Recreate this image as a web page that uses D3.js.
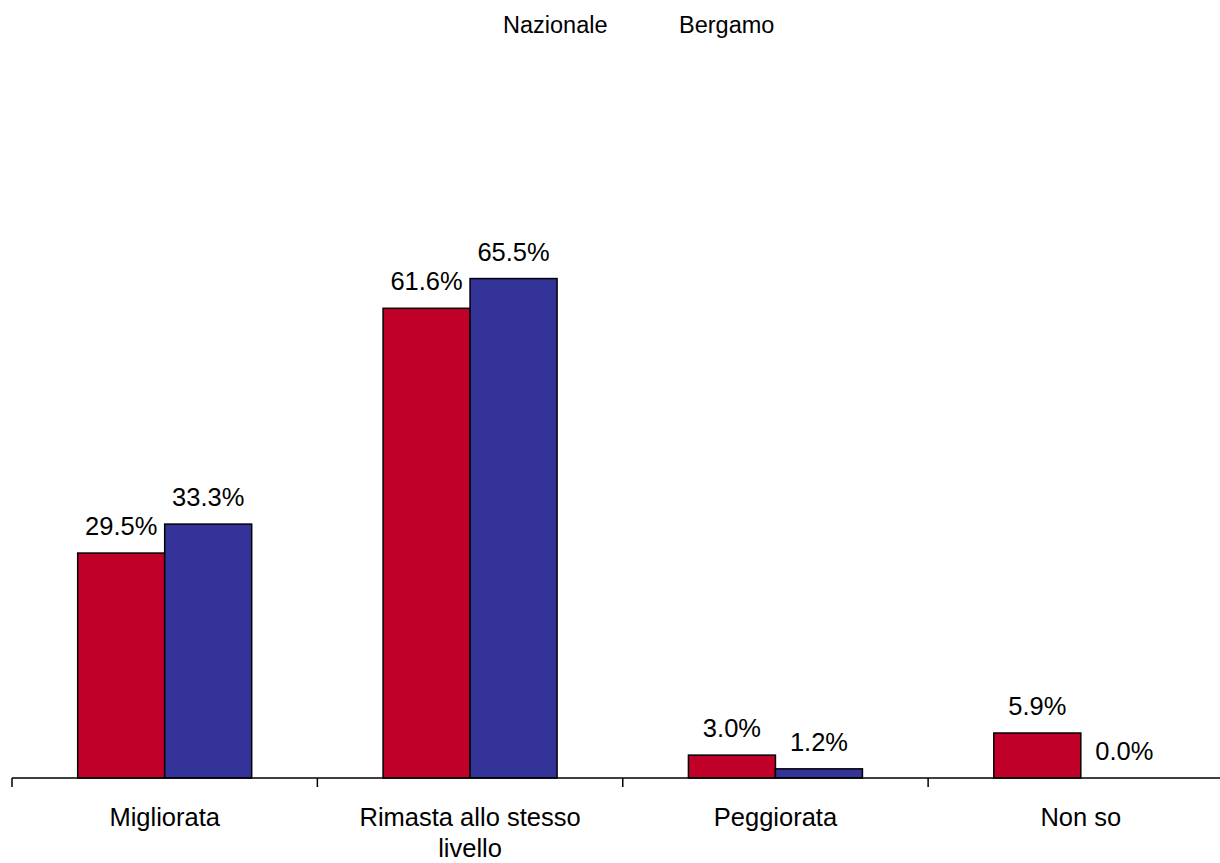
<!DOCTYPE html>
<html>
<head>
<meta charset="utf-8">
<script src="https://cdn.jsdelivr.net/npm/d3@7"></script>
<style>
  body { margin: 0; background: #fff; }
  svg { display: block; font-family: "Liberation Sans", Arial, sans-serif; }
</style>
</head>
<body>
<div id="chart"></div>
<script>
/* Bar chart: Nazionale vs Bergamo */

const categories = ["Migliorata", "Rimasta allo stesso livello", "Peggiorata", "Non so"];
const series = ["Nazionale", "Bergamo"];
const nazionale = [29.5, 61.6, 3.0, 5.9];
const bergamo = [33.3, 65.5, 1.2, 0.0];
const colors = ["#C00028", "#333399"];

const width = 1220, height = 863;
const margin = ({ top: 15.5, left: 12, right: -13.5, bottom: 85 });

const svg = d3.select("#chart")
    .append("svg")
    .attr("width", width)
    .attr("height", height);

const data = categories.map((c, i) => ({ cat: c, values: [nazionale[i], bergamo[i]] }));

/* scales */
let x0 = d3.scaleBand()
    .domain(categories)
    .range([margin.left, width - margin.right]);

let x1 = d3.scaleBand()
    .domain(series)
    .range([0, x0.bandwidth()])
    .paddingOuter(0.755);

let y = d3.scaleLinear()
    .domain([0, 100])
    .range([height - margin.bottom, margin.top]);

/* bars */
const groups = svg.append("g")
  .selectAll("g")
  .data(data)
  .join("g")
    .attr("transform", d => `translate(${x0(d.cat)},0)`);

groups.selectAll("rect")
  .data(d => d.values.map((v, k) => ({ s: series[k], v: v, k: k })))
  .join("rect")
    .filter(d => d.v > 0)
    .attr("x", d => x1(d.s))
    .attr("y", d => y(d.v))
    .attr("width", x1.bandwidth())
    .attr("height", d => y(0) - y(d.v))
    .attr("fill", d => colors[d.k])
    .attr("stroke", "#000")
    .attr("stroke-width", 1.5);

/* value labels */
groups.selectAll("text")
  .data(d => d.values.map((v, k) => ({ s: series[k], v: v })))
  .join("text")
    .attr("x", d => x1(d.s) + x1.bandwidth() / 2)
    .attr("y", d => y(d.v) - 18)
    .attr("text-anchor", "middle")
    .attr("font-size", 25.5)
    .text(d => d.v.toFixed(1) + "%");

/* x axis: line with ticks at band boundaries */
const axis = svg.append("g")
    .attr("transform", `translate(0,${y(0)})`);

axis.append("line")
    .attr("x1", margin.left)
    .attr("x2", width)
    .attr("stroke", "#000")
    .attr("stroke-width", 1.5);

axis.selectAll(".tick")
  .data(categories)
  .join("line")
    .attr("class", "tick")
    .attr("x1", d => x0(d))
    .attr("x2", d => x0(d))
    .attr("y1", 0)
    .attr("y2", 9)
    .attr("stroke", "#000")
    .attr("stroke-width", 1.5);

const labels = axis.selectAll(".cat")
  .data(categories)
  .join("text")
    .attr("class", "cat")
    .attr("x", d => x0(d) + x0.bandwidth() / 2)
    .attr("y", 48)
    .attr("text-anchor", "middle")
    .attr("font-size", 25.5);

/* wrap long labels */
labels.each(function(d) {
  const t = d3.select(this);
  const words = d.split(" ");
  let lines = [], cur = [];
  for (let w of words) {
    const test = cur.concat(w).join(" ");
    if (test.length > 20 && cur.length) { lines.push(cur.join(" ")); cur = [w]; }
    else cur.push(w);
  }
  lines.push(cur.join(" "));
  lines.forEach((l, i) => {
    t.append("tspan")
      .attr("x", x0(d) + x0.bandwidth() / 2)
      .attr("dy", i === 0 ? 0 : 31)
      .text(l);
  });
});

/* legend (text only) */
const legendX = [503, 679];
svg.append("g")
  .selectAll("text")
  .data(series)
  .join("text")
    .attr("x", (d, i) => legendX[i])
    .attr("y", 33)
    .attr("font-size", 23.5)
    .text(d => d);
</script>
</body>
</html>
